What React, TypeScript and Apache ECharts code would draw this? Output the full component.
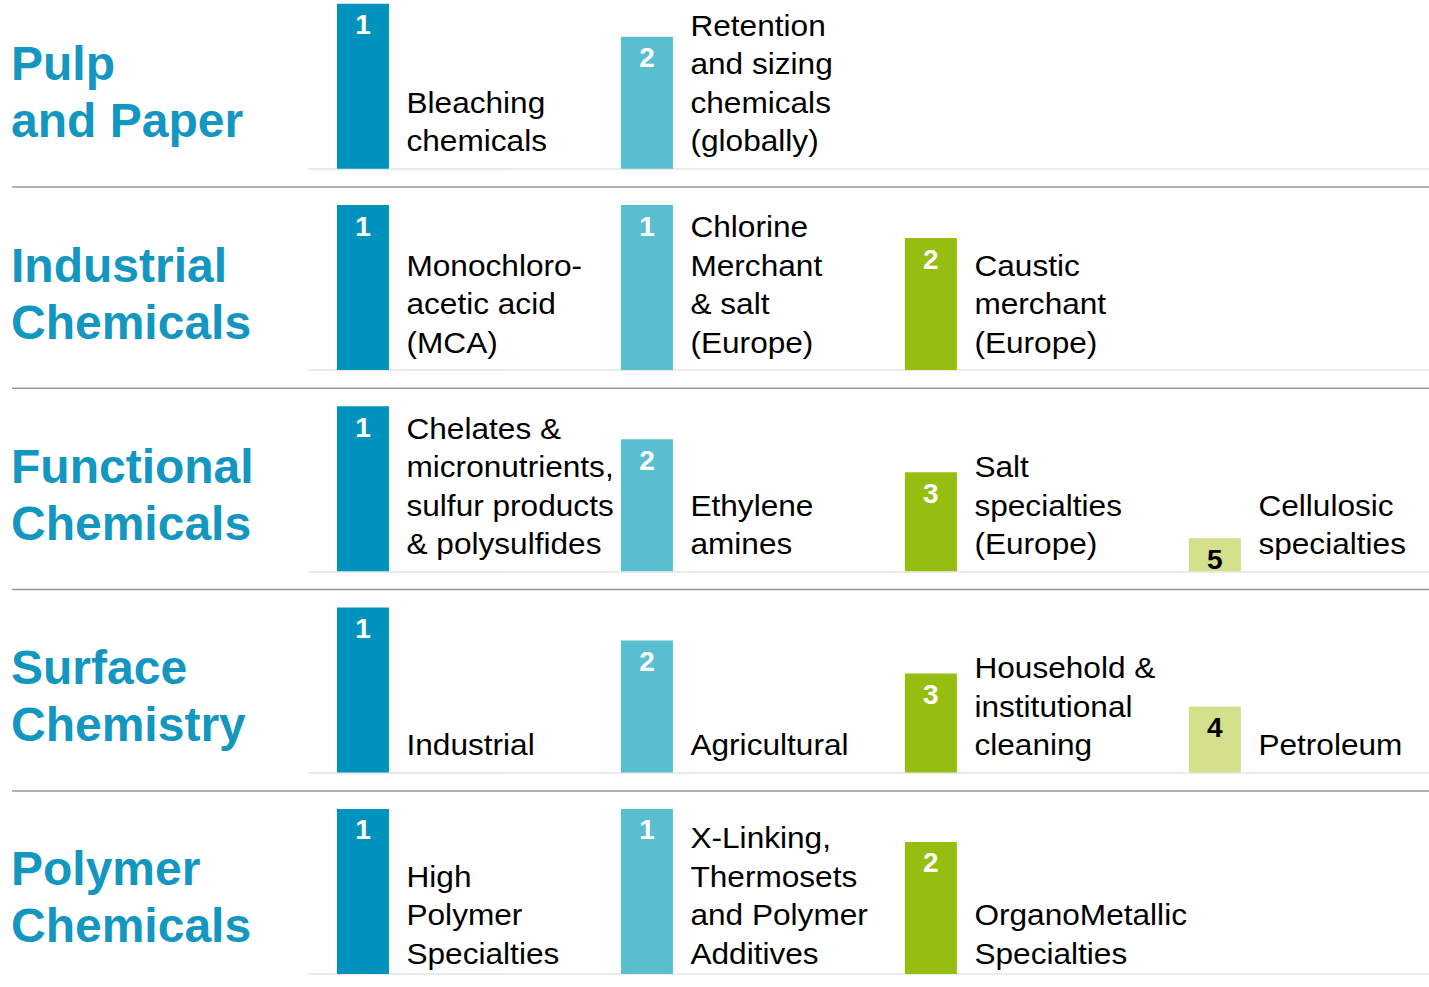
import React, { useEffect, useRef } from "react";
import * as echarts from "echarts";

// ---- Data ----
const segments = [
  "Pulp\nand Paper",
  "Industrial\nChemicals",
  "Functional\nChemicals",
  "Surface\nChemistry",
  "Polymer\nChemicals",
];

const pulpRanks = [1, 2];
const pulpProducts = ["Bleaching\nchemicals", "Retention\nand sizing\nchemicals\n(globally)"];

const industrialRanks = [1, 1, 2];
const industrialProducts = [
  "Monochloro-\nacetic acid\n(MCA)",
  "Chlorine\nMerchant\n& salt\n(Europe)",
  "Caustic\nmerchant\n(Europe)",
];

const functionalRanks = [1, 2, 3, 5];
const functionalProducts = [
  "Chelates &\nmicronutrients,\nsulfur products\n& polysulfides",
  "Ethylene\namines",
  "Salt\nspecialties\n(Europe)",
  "Cellulosic\nspecialties",
];

const surfaceRanks = [1, 2, 3, 4];
const surfaceProducts = ["Industrial", "Agricultural", "Household &\ninstitutional\ncleaning", "Petroleum"];

const polymerRanks = [1, 1, 2];
const polymerProducts = [
  "High\nPolymer\nSpecialties",
  "X-Linking,\nThermosets\nand Polymer\nAdditives",
  "OrganoMetallic\nSpecialties",
];

const rankRows = [pulpRanks, industrialRanks, functionalRanks, surfaceRanks, polymerRanks];
const productRows = [pulpProducts, industrialProducts, functionalProducts, surfaceProducts, polymerProducts];

const MAX_RANK = 5;

// ---- Styles / layout ----
const columnColors = ["#0093BE", "#59BFCE", "#95BE10", "#D3DF8B"];
const numberColors = ["#FFFFFF", "#FFFFFF", "#FFFFFF", "#000000"];
const titleColor = "#1396C0";
const FONT = '"Liberation Sans", Arial, Helvetica, sans-serif';

const BASE0 = 168.7;
const ROW_STEP = 201.3;
const BAR_AREA = 165;
const BAR_W = 52;
const labelLift = [8, 8, 8, 8, 1];

const baseOf = (i: number) => BASE0 + ROW_STEP * i;

export default function App() {
  const ref = useRef<HTMLDivElement>(null);

  useEffect(() => {
    if (!ref.current) return;
    const chart = echarts.init(ref.current, null, { renderer: "svg" });

    const grids = rankRows.map((_, i) => ({
      left: 309,
      right: 0,
      top: baseOf(i) - BAR_AREA,
      height: BAR_AREA,
    }));

    const xAxes = rankRows.map((_, i) => ({
      type: "value",
      gridIndex: i,
      min: -0.19,
      max: 3.754,
      axisLine: { show: true, onZero: false, lineStyle: { color: "#E4E4E4", width: 1.5 } },
      axisTick: { show: false },
      axisLabel: { show: false },
      splitLine: { show: false },
    }));

    const yAxes = rankRows.map((_, i) => ({
      type: "value",
      gridIndex: i,
      min: 0,
      max: MAX_RANK,
      show: false,
      splitLine: { show: false },
    }));

    const titles = segments.map((s, i) => ({
      text: s,
      left: 11,
      top: baseOf(i) - 133.5,
      padding: 0,
      textStyle: {
        fontSize: 48,
        fontWeight: "bold",
        lineHeight: 57,
        color: titleColor,
        fontFamily: FONT,
      },
    }));

    const series = rankRows.map((ranks, i) => ({
      type: "custom",
      xAxisIndex: i,
      yAxisIndex: i,
      clip: false,
      data: ranks.map((r, c) => [c, MAX_RANK + 1 - r, r]),
      renderItem: (params: any, api: any) => {
        const c = api.value(0);
        const h = api.value(1);
        const rank = api.value(2);
        const top = api.coord([c, h]);
        const bot = api.coord([c, 0]);
        const half = BAR_W / 2;
        return {
          type: "group",
          children: [
            {
              type: "rect",
              shape: { x: top[0] - half, y: top[1], width: BAR_W, height: bot[1] - top[1] },
              style: { fill: columnColors[c] },
            },
            {
              type: "text",
              style: {
                text: String(rank),
                x: top[0],
                y: top[1] + 21,
                align: "center",
                verticalAlign: "middle",
                fill: numberColors[c],
                fontSize: 28,
                fontWeight: "bold",
                fontFamily: FONT,
              },
            },
            {
              type: "text",
              x: top[0] + half + 17.5,
              y: bot[1] - labelLift[i],
              scaleX: 1.09,
              style: {
                text: productRows[i][params.dataIndex],
                x: 0,
                y: 0,
                align: "left",
                verticalAlign: "bottom",
                fill: "#000000",
                fontSize: 29,
                fontFamily: FONT,
                lineHeight: 38.5,
              },
            },
          ],
        };
      },
    }));

    const separators = [0, 1, 2, 3].map((i) => ({
      type: "line",
      shape: { x1: 12, y1: baseOf(i) + 18.3, x2: 1429, y2: baseOf(i) + 18.3 },
      style: { stroke: "#999999", lineWidth: 1.5 },
      silent: true,
    }));

    chart.setOption({
      animation: false,
      backgroundColor: "#FFFFFF",
      title: titles,
      grid: grids,
      xAxis: xAxes,
      yAxis: yAxes,
      series,
      graphic: separators,
    } as any);

    return () => chart.dispose();
  }, []);

  return (
    <div
      ref={ref}
      style={{ position: "absolute", left: 0, top: 0, width: 1429, height: 987, background: "#fff" }}
    />
  );
}
